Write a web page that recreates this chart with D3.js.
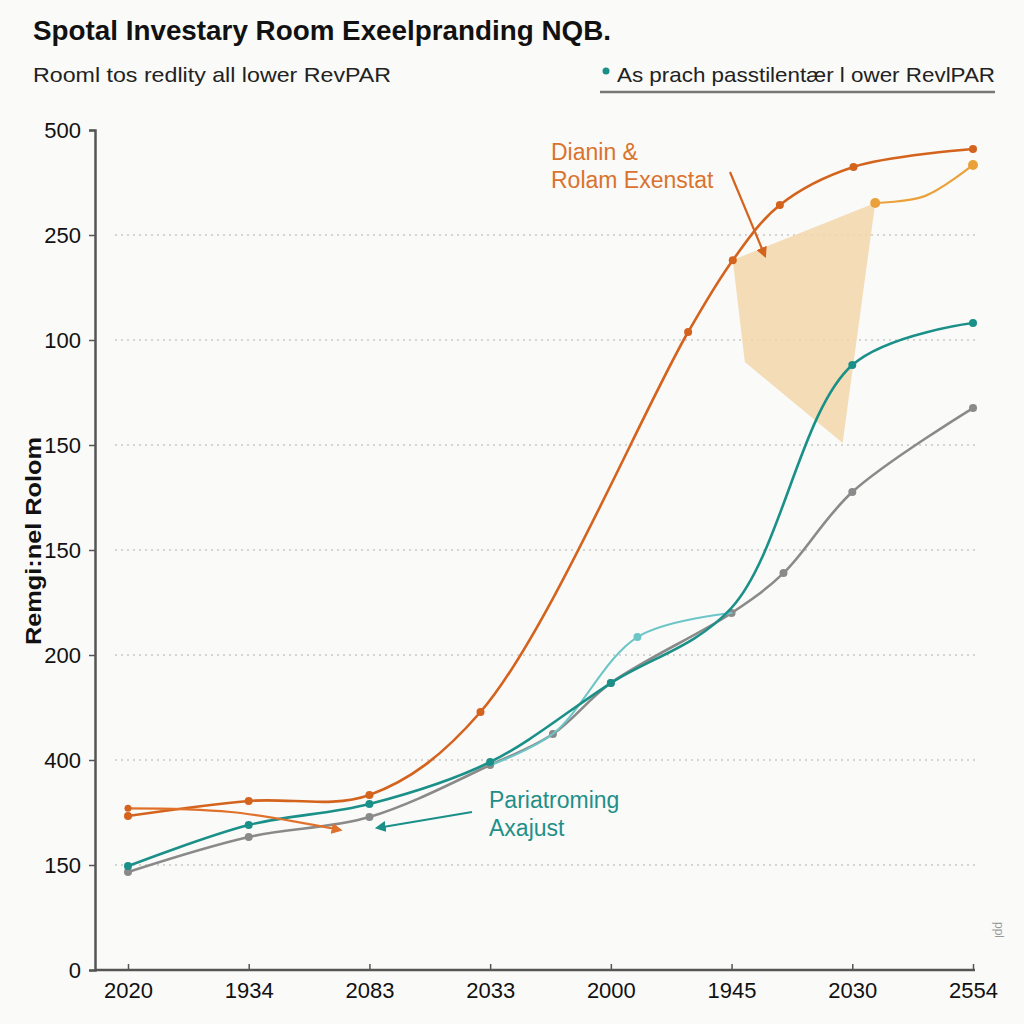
<!DOCTYPE html>
<html><head><meta charset="utf-8">
<script src="https://cdn.jsdelivr.net/npm/d3@7"></script>
<style>html,body{margin:0;padding:0;background:#fafaf8;}</style>
</head><body>
<script>
// ---- data ----
const xLabels = ["2020","1934","2083","2033","2000","1945","2030","2554"];
const yLabels = ["0","150","400","200","150","150","100","250","500"];
// series: [x position (category index), y position (tick index)]
const orangeMain = [[0,1.467],[1,1.61],[2,1.667],[2.92,2.457],[4.64,6.076],[5.01,6.76],[5.40,7.286],[6.01,7.648],[7,7.819]];
const orangeArrow = [[0,1.54],[0.85,1.505],[1.76,1.333]];
const orangeLight = [[6.19,7.305],[6.6,7.37],[7,7.667]];
const tealMain = [[0,0.99],[1,1.381],[2,1.581],[3,1.981],[4,2.733],[5,3.45],[6,5.762],[7,6.162]];
const tealMarkers = [0,1,2,3,4,6,7];
const tealLight = [[3,1.95],[3.52,2.25],[4.22,3.171],[5,3.4]];
const grayMain = [[0,0.933],[1,1.267],[2,1.457],[3,1.952],[3.52,2.248],[4,2.733],[5,3.4],[5.43,3.78],[6,4.552],[7,5.352]];
const shade = [[5.01,6.762],[6.19,7.305],[5.92,5.019],[5.11,5.79]];

const W=1024,H=1024;
const FONT="'Liberation Sans', Arial, sans-serif";
const svg=d3.select("body").append("svg").attr("width",W).attr("height",H).style("font-family",FONT);
svg.append("rect").attr("width",W).attr("height",H).attr("fill","#fafaf8");

const x=d3.scaleLinear().domain([0,7]).range([128,973]);
const y=d3.scaleLinear().domain([0,8]).range([970,130]);

const defs=svg.append("defs");
function marker(id,color){
  defs.append("marker").attr("id",id).attr("viewBox","0 0 10 10").attr("refX",8).attr("refY",5)
   .attr("markerWidth",5).attr("markerHeight",5).attr("orient","auto")
   .append("path").attr("d","M0,0L10,5L0,10z").attr("fill",color);
}
marker("aO","#d4631e"); marker("aT","#1a9088"); marker("aO2","#e0712a");

// titles
svg.append("text").attr("x",33).attr("y",40).attr("font-size",27).attr("font-weight","bold").attr("fill","#111")
  .attr("textLength",578).attr("lengthAdjust","spacingAndGlyphs").text("Spotal Investary Room Exeelpranding NQB.");
svg.append("text").attr("x",33).attr("y",82).attr("font-size",21).attr("fill","#222")
  .attr("textLength",358).attr("lengthAdjust","spacingAndGlyphs").text("Rooml tos redlity all lower RevPAR");
svg.append("circle").attr("cx",606).attr("cy",71).attr("r",3.5).attr("fill","#1a9088");
svg.append("text").attr("x",617).attr("y",82).attr("font-size",21).attr("fill","#222")
  .attr("textLength",378).attr("lengthAdjust","spacingAndGlyphs").text("As prach passtilentær l ower RevlPAR");
svg.append("line").attr("x1",600).attr("x2",995).attr("y1",92).attr("y2",92).attr("stroke","#777").attr("stroke-width",2.5);

// gridlines
svg.append("g").selectAll("line").data(d3.range(1,8)).join("line")
  .attr("x1",115).attr("x2",975).attr("y1",d=>y(d)).attr("y2",d=>y(d))
  .attr("stroke","#c8c8c8").attr("stroke-width",1.5).attr("stroke-dasharray","2,4");

// axes
const yAxis=d3.axisLeft(y).tickValues(d3.range(0,9)).tickFormat(i=>yLabels[i]).tickSize(6).tickPadding(8);
const gy=svg.append("g").attr("transform","translate(95,0)").call(yAxis);
gy.select(".domain").attr("stroke","#555").attr("stroke-width",2.5);
gy.selectAll(".tick line").attr("stroke","#555").attr("stroke-width",1.5);
gy.selectAll(".tick text").attr("font-size",22).attr("fill","#111").attr("font-family",FONT);

const xAxis=d3.axisBottom(x).tickValues(d3.range(0,8)).tickFormat(i=>xLabels[i]).tickSize(7).tickPadding(5).tickSizeOuter(0);
const gx=svg.append("g").attr("transform","translate(0,970)").call(xAxis);
gx.select(".domain").remove();
gx.append("line").attr("x1",95).attr("x2",975).attr("stroke","#555").attr("stroke-width",2.5);
gx.selectAll(".tick line").attr("stroke","#555").attr("stroke-width",1.5).attr("y1",-6).attr("y2",0);
gx.selectAll(".tick text").attr("font-size",22).attr("fill","#111").attr("font-family",FONT);

// axis title
svg.append("text").attr("transform","translate(41,541) rotate(-90)").attr("text-anchor","middle")
  .attr("font-size",22).attr("font-weight","bold").attr("fill","#111")
  .attr("textLength",208).attr("lengthAdjust","spacingAndGlyphs").text("Remgi:nel Rolom");
svg.append("text").attr("transform","translate(995,930) rotate(90)").attr("text-anchor","middle")
  .attr("font-size",12).attr("fill","#999").text("ppl");

// shaded polygon
svg.append("path").datum(shade)
  .attr("d",d=>d3.line().x(p=>x(p[0])).y(p=>y(p[1]))(d)+"Z")
  .attr("fill","#f2d6ab").attr("opacity",0.85);

const curve=d3.line().x(d=>x(d[0])).y(d=>y(d[1])).curve(d3.curveCatmullRom.alpha(0.5));
function series(data,color,w,markerIdx,r){
  svg.append("path").datum(data).attr("d",curve).attr("fill","none").attr("stroke",color).attr("stroke-width",w).attr("stroke-linecap","round");
  svg.append("g").selectAll("circle").data(markerIdx.map(i=>data[i])).join("circle")
    .attr("cx",d=>x(d[0])).attr("cy",d=>y(d[1])).attr("r",r).attr("fill",color);
}
series(grayMain,"#8a8a8a",2.6,d3.range(grayMain.length),4);
series(tealLight,"#6cc6c8",2,[2],4);
series(tealMain,"#1a9088",2.6,tealMarkers,4);
series(orangeMain,"#d4631e",2.6,d3.range(orangeMain.length),4);
series(orangeLight,"#eba13a",2.2,[0,2],5);
svg.append("path").datum(orangeArrow).attr("d",curve).attr("fill","none").attr("stroke","#e0712a").attr("stroke-width",2.2).attr("marker-end","url(#aO2)");
svg.append("circle").attr("cx",x(0)).attr("cy",y(orangeArrow[0][1])).attr("r",3.5).attr("fill","#d4631e");

// annotations
svg.append("text").attr("x",551).attr("y",160).attr("font-size",23).attr("fill","#d9732e").text("Dianin &");
svg.append("text").attr("x",551).attr("y",188).attr("font-size",23).attr("fill","#d9732e").text("Rolam Exenstat");
svg.append("line").attr("x1",730).attr("y1",172).attr("x2",765).attr("y2",256).attr("stroke","#d4631e").attr("stroke-width",2.2).attr("marker-end","url(#aO)");
svg.append("text").attr("x",489).attr("y",808).attr("font-size",23).attr("fill","#1f8f8a").text("Pariatroming");
svg.append("text").attr("x",489).attr("y",836).attr("font-size",23).attr("fill","#1f8f8a").text("Axajust");
svg.append("line").attr("x1",472).attr("y1",812).attr("x2",377).attr("y2",828).attr("stroke","#1a9088").attr("stroke-width",2.2).attr("marker-end","url(#aT)");
</script>
</body></html>
